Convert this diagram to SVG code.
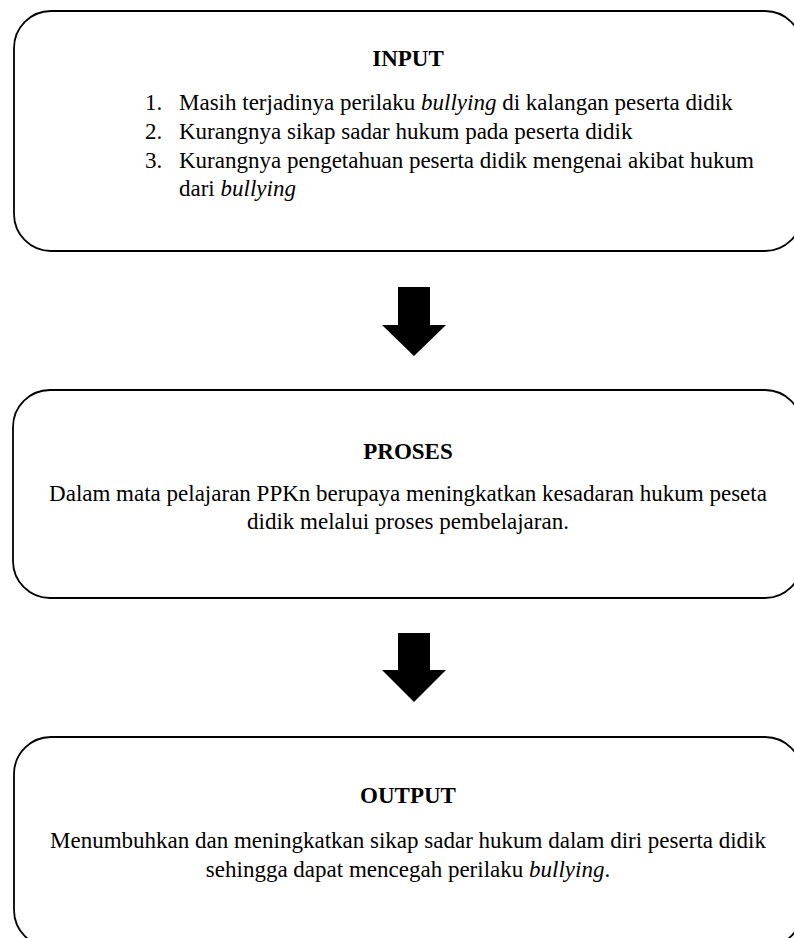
<svg xmlns="http://www.w3.org/2000/svg" width="794" height="938" viewBox="0 0 794 938">
<style>
.box{fill:#fff;stroke:#000;stroke-width:1.8}
.t{font-family:"Liberation Serif","Times New Roman",serif;font-size:23px;fill:#000}
.h{font-weight:bold;text-anchor:middle}
.c{text-anchor:middle}
.arrow{fill:#000}
</style>
<rect width="794" height="938" fill="#fff"/>
<g id="input">
<rect class="box" x="14" y="11" width="788" height="240" rx="37" ry="37"/>
<text class="t h" x="408" y="66">INPUT</text>
<text class="t" x="145" y="110">1.</text>
<text class="t" x="179" y="110">Masih terjadinya perilaku <tspan font-style="italic">bullying</tspan> di kalangan peserta didik</text>
<text class="t" x="145" y="139">2.</text>
<text class="t" x="179" y="139">Kurangnya sikap sadar hukum pada peserta didik</text>
<text class="t" x="145" y="168">3.</text>
<text class="t" x="179" y="168">Kurangnya pengetahuan peserta didik mengenai akibat hukum</text>
<text class="t" x="179" y="196">dari <tspan font-style="italic">bullying</tspan></text>
</g>
<g id="proses">
<rect class="box" x="13" y="390" width="789" height="208" rx="37" ry="37"/>
<text class="t h" x="408" y="459">PROSES</text>
<text class="t c" x="408" y="501">Dalam mata pelajaran PPKn berupaya meningkatkan kesadaran hukum peseta</text>
<text class="t c" x="408" y="529">didik melalui proses pembelajaran.</text>
</g>
<g id="output">
<rect class="box" x="14" y="737" width="788" height="210" rx="37" ry="37"/>
<text class="t h" x="408" y="803">OUTPUT</text>
<text class="t c" x="408" y="848">Menumbuhkan dan meningkatkan sikap sadar hukum dalam diri peserta didik</text>
<text class="t c" x="408" y="877">sehingga dapat mencegah perilaku <tspan font-style="italic">bullying</tspan>.</text>
</g>
<g id="connectors">
<polygon class="arrow" points="398,287 430,287 430,325 446,325 414,356 382,325 398,325"/>
<polygon class="arrow" points="398,633 430,633 430,670 446,670 414,702 382,670 398,670"/>
</g>
</svg>
